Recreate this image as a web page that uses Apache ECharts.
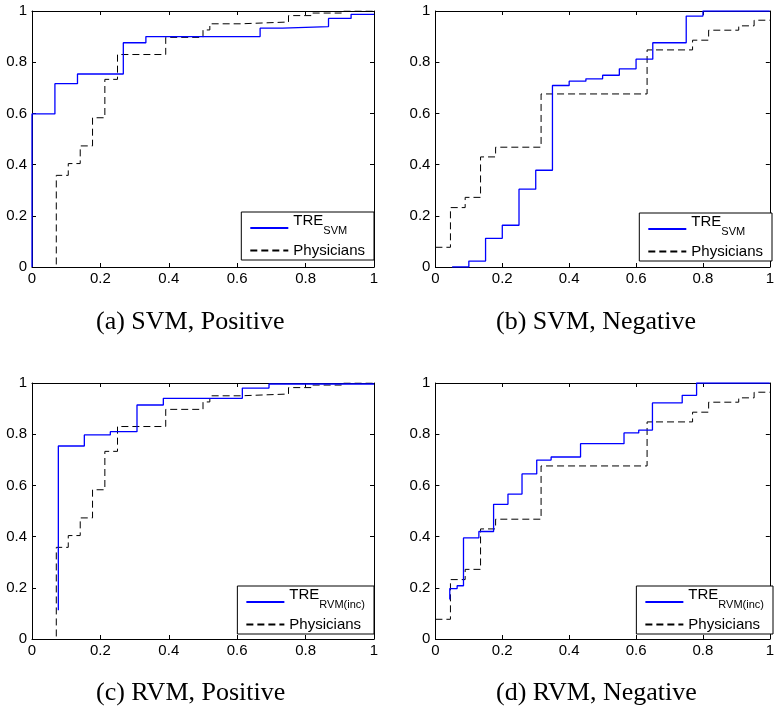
<!DOCTYPE html>
<html><head><meta charset="utf-8">
<script src="https://cdn.jsdelivr.net/npm/echarts@6/dist/echarts.min.js"></script>
<style>html,body{margin:0;padding:0;background:#fff}#c{width:777px;height:710px}</style>
</head><body><div id="c"></div>
<script>
// tick labels
const tickLabels = ['0', '0.2', '0.4', '0.6', '0.8', '1'];

// (a) SVM, Positive
const svmPosFpr = [0, 0, 0.067, 0.133, 0.267, 0.333, 0.667, 0.733, 0.867, 0.933, 1];
const svmPosTpr = [0, 0.598, 0.716, 0.754, 0.876, 0.9, 0.933, 0.939, 0.971, 0.987, 0.987];
// physicians, positive (a, c)
const physPosFpr = [0.071, 0.071, 0.106, 0.141, 0.177, 0.213, 0.25, 0.391, 0.5, 0.52, 0.61, 0.75, 0.818, 0.905, 1];
const physPosTpr = [0.01, 0.358, 0.404, 0.473, 0.583, 0.733, 0.83, 0.897, 0.926, 0.95, 0.957, 0.982, 0.992, 1, 1];
// (b) SVM, Negative
const svmNegFpr = [0.05, 0.1, 0.15, 0.2, 0.25, 0.3, 0.35, 0.4, 0.45, 0.5, 0.55, 0.6, 0.65, 0.75, 0.8, 1];
const svmNegTpr = [0, 0.023, 0.112, 0.163, 0.304, 0.378, 0.709, 0.726, 0.735, 0.749, 0.774, 0.812, 0.876, 0.98, 1, 1];
// physicians, negative (b, d)
const physNegFpr = [0, 0.045, 0.089, 0.135, 0.18, 0.316, 0.633, 0.769, 0.817, 0.907, 0.953, 1];
const physNegTpr = [0.077, 0.232, 0.272, 0.43, 0.468, 0.676, 0.848, 0.886, 0.925, 0.942, 0.964, 0.964];
// (c) RVM, Positive
const rvmPosFpr = [0.077, 0.077, 0.153, 0.229, 0.307, 0.384, 0.615, 0.693, 1];
const rvmPosTpr = [0.112, 0.754, 0.797, 0.81, 0.914, 0.94, 0.98, 0.996, 0.996];
// (d) RVM, Negative
const rvmNegFpr = [0.043, 0.043, 0.065, 0.084, 0.130, 0.174, 0.217, 0.259, 0.303, 0.346, 0.434, 0.564, 0.608, 0.649, 0.738, 0.781, 1];
const rvmNegTpr = [0.154, 0.197, 0.208, 0.395, 0.42, 0.526, 0.566, 0.645, 0.699, 0.711, 0.763, 0.805, 0.816, 0.922, 0.952, 1, 1];

const captions = ['(a) SVM, Positive', '(b) SVM, Negative', '(c) RVM, Positive', '(d) RVM, Negative'];

const SANS = '"Liberation Sans", Arial, Helvetica, sans-serif';
const SERIF = '"Liberation Serif", "Times New Roman", serif';

const grids = [
  {left: 32, top: 11, width: 342, height: 256},
  {left: 435.4, top: 11, width: 342, height: 256},
  {left: 32, top: 383, width: 342, height: 256},
  {left: 435.4, top: 383, width: 342, height: 256}
];

function pts(xs, ys) { return xs.map((x, i) => [x, ys[i]]); }
function fmt(v) { return tickLabels[Math.round(v / 0.2)]; }

const xAxes = [], yAxes = [];
grids.forEach((g, gi) => {
  ['bottom', 'top'].forEach((pos, k) => {
    xAxes.push({
      gridIndex: gi, type: 'value', min: 0, max: 1, interval: 0.2, position: pos,
      axisLine: {show: true, onZero: false, lineStyle: {color: '#000', width: 1}},
      axisTick: {show: true, inside: true, length: 4, lineStyle: {color: '#000', width: 1}},
      axisLabel: {show: k === 0, margin: 4, fontSize: 15, color: '#000', fontFamily: SANS,
                  formatter: fmt, showMinLabel: true, showMaxLabel: true},
      splitLine: {show: false}
    });
  });
  ['left', 'right'].forEach((pos, k) => {
    yAxes.push({
      gridIndex: gi, type: 'value', min: 0, max: 1, interval: 0.2, position: pos,
      axisLine: {show: true, onZero: false, lineStyle: {color: '#000', width: 1}},
      axisTick: {show: true, inside: true, length: 4, lineStyle: {color: '#000', width: 1}},
      axisLabel: {show: k === 0, margin: 5, fontSize: 15, color: '#000', fontFamily: SANS,
                  formatter: fmt, showMinLabel: true, showMaxLabel: true},
      splitLine: {show: false}
    });
  });
});

const blueStyle = {color: '#0000ff', width: 1.3, type: 'solid'};
const dashStyle = {color: '#000', width: 1, type: [7, 4]};

function mk(name, gi, xs, ys, style) {
  return {
    name: name, type: 'line', step: 'end', xAxisIndex: gi * 2, yAxisIndex: gi * 2,
    data: pts(xs, ys), symbol: 'none', showSymbol: false,
    lineStyle: style, itemStyle: {color: style.color}, animation: false, silent: true
  };
}

const series = [
  mk('Physicians', 0, physPosFpr, physPosTpr, dashStyle),
  mk('TRE_SVM', 0, svmPosFpr, svmPosTpr, blueStyle),
  mk('Physicians', 1, physNegFpr, physNegTpr, dashStyle),
  mk('TRE_SVM', 1, svmNegFpr, svmNegTpr, blueStyle),
  mk('Physicians', 2, physPosFpr, physPosTpr, dashStyle),
  mk('TRE_RVM(inc)', 2, rvmPosFpr, rvmPosTpr, blueStyle),
  mk('Physicians', 3, physNegFpr, physNegTpr, dashStyle),
  mk('TRE_RVM(inc)', 3, rvmNegFpr, rvmNegTpr, blueStyle)
];

const legendNames = {
  'TRE_SVM': '{m|TRE}{s|SVM}',
  'TRE_RVM(inc)': '{m|TRE}{s|RVM(inc)}',
  'Physicians': '{p|Physicians}'
};

function mkLegend(names, right, top) {
  return {
    data: names, orient: 'vertical', right: right, top: top,
    itemWidth: 38, itemHeight: 14, itemGap: 7,
    padding: [1, 9, 2, 8],
    borderColor: '#000', borderWidth: 1, borderRadius: 0, backgroundColor: '#fff',
    selectedMode: false,
    itemStyle: {opacity: 0, borderWidth: 0},
    formatter: n => legendNames[n],
    textStyle: {
      fontFamily: SANS, fontSize: 15, color: '#000',
      rich: {
        m: {fontFamily: SANS, fontSize: 15, color: '#000', lineHeight: 30, verticalAlign: 'top'},
        s: {fontFamily: SANS, fontSize: 11, color: '#000', lineHeight: 12, verticalAlign: 'top', padding: [12, 0, 0, 0]},
        p: {fontFamily: SANS, fontSize: 15, color: '#000', lineHeight: 16}
      }
    }
  };
}

const legends = [
  mkLegend(['TRE_SVM', 'Physicians'], 403, 212),
  mkLegend(['TRE_SVM', 'Physicians'], 5, 213),
  mkLegend(['TRE_RVM(inc)', 'Physicians'], 403, 586),
  mkLegend(['TRE_RVM(inc)', 'Physicians'], 4, 586)
];

const capPos = [[96, 322], [496, 322], [96, 693], [496, 693]];
const graphic = captions.map((t, i) => ({
  type: 'text', x: capPos[i][0], y: capPos[i][1], silent: true,
  style: {text: t, font: '26px ' + SERIF, fill: '#000', verticalAlign: 'middle', align: 'left'}
}));

const chart = echarts.init(document.getElementById('c'), null, {renderer: 'canvas'});
chart.setOption({
  animation: false,
  backgroundColor: '#fff',
  grid: grids,
  xAxis: xAxes,
  yAxis: yAxes,
  legend: legends,
  series: series,
  graphic: graphic
});
</script>
</body></html>
